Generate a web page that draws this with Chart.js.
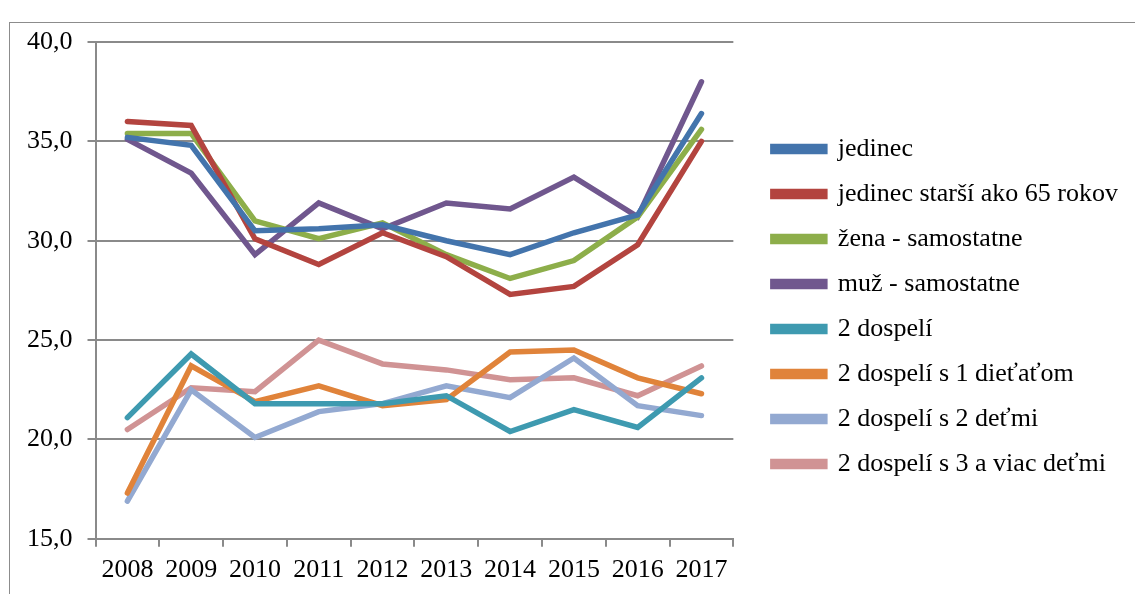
<!DOCTYPE html>
<html>
<head>
<meta charset="utf-8">
<script src="https://cdn.jsdelivr.net/npm/chart.js@4"></script>
<style>
  html, body { margin: 0; padding: 0; background: #fff; overflow: hidden; }
  #frame { position: absolute; left: 9px; top: 22px; width: 1300px; height: 800px; border: 1.5px solid #8c8c8c; }
  #wrap { position: absolute; left: 0; top: 0; width: 1135px; height: 594px; }
</style>
</head>
<body>
<div id="frame"></div>
<div id="wrap"><canvas id="lineChart"></canvas></div>
<script>
// Data
const years = ['2008', '2009', '2010', '2011', '2012', '2013', '2014', '2015', '2016', '2017'];
const yTickLabels = ['15,0', '20,0', '25,0', '30,0', '35,0', '40,0'];

const jedinec = [35.2, 34.8, 30.5, 30.6, 30.8, 30.0, 29.3, 30.4, 31.3, 36.4];
const jedinecStarsi = [36.0, 35.8, 30.1, 28.8, 30.4, 29.2, 27.3, 27.7, 29.8, 35.0];
const zena = [35.4, 35.4, 31.0, 30.1, 30.9, 29.3, 28.1, 29.0, 31.2, 35.6];
const muz = [35.1, 33.4, 29.3, 31.9, 30.6, 31.9, 31.6, 33.2, 31.2, 38.0];
const dvaDospeli = [21.1, 24.3, 21.8, 21.8, 21.8, 22.2, 20.4, 21.5, 20.6, 23.1];
const sJednym = [17.3, 23.7, 21.9, 22.7, 21.7, 22.0, 24.4, 24.5, 23.1, 22.3];
const sDvoma = [16.9, 22.5, 20.1, 21.4, 21.8, 22.7, 22.1, 24.1, 21.7, 21.2];
const sTromi = [20.5, 22.6, 22.4, 25.0, 23.8, 23.5, 23.0, 23.1, 22.2, 23.7];

const series = [
  { label: 'jedinec', data: jedinec, color: '#4374AC' },
  { label: 'jedinec starší ako 65 rokov', data: jedinecStarsi, color: '#B3443F' },
  { label: 'žena - samostatne', data: zena, color: '#8DAE4A' },
  { label: 'muž - samostatne', data: muz, color: '#70578E' },
  { label: '2 dospelí', data: dvaDospeli, color: '#3E9AB0' },
  { label: '2 dospelí s 1 dieťaťom', data: sJednym, color: '#E0833A' },
  { label: '2 dospelí s 2 deťmi', data: sDvoma, color: '#93A9D1' },
  { label: '2 dospelí s 3 a viac deťmi', data: sTromi, color: '#D09394' }
];

function renderLineChart() {
  const ctx = document.getElementById('lineChart');
  Chart.defaults.font.family = '"Liberation Serif", "Times New Roman", serif';
  Chart.defaults.color = '#000';

  const datasets = series.map(s => {
    return {
      label: s.label,
      data: s.data,
      borderColor: s.color,
      backgroundColor: s.color,
      borderWidth: 5.5,
      borderCapStyle: 'round',
      borderJoinStyle: 'miter',
      pointRadius: 0,
      tension: 0,
      fill: false
    };
  });

  new Chart(ctx, {
    type: 'line',
    data: { labels: years, datasets: datasets },
    options: {
      responsive: true,
      maintainAspectRatio: false,
      animation: false,
      layout: { padding: { left: 12, top: 42, right: 7, bottom: 0 } },
      plugins: {
        tooltip: { enabled: false },
        legend: {
          position: 'right',
          align: 'start',
          maxWidth: 420,
          title: { display: true, text: ' ', font: { size: 10, lineHeight: 1 }, padding: { top: 65, bottom: 0 } },
          labels: {
            boxWidth: 52,
            boxHeight: 5,
            padding: 19,
            font: { size: 26 },
            color: '#000'
          }
        }
      },
      scales: {
        x: {
          offset: true,
          grid: { offset: true, drawOnChartArea: false, drawTicks: true, tickLength: 8, color: '#8a8a8a', lineWidth: 2 },
          border: { color: '#8a8a8a', width: 2 },
          ticks: { font: { size: 26 }, padding: 8, maxRotation: 0, autoSkip: false }
        },
        y: {
          min: 15,
          max: 40,
          ticks: {
            stepSize: 5,
            font: { size: 26 },
            padding: 15,
            callback: (v) => yTickLabels[(v - 15) / 5]
          },
          grid: { color: '#8a8a8a', lineWidth: 2, tickLength: 8 },
          border: { color: '#8a8a8a', width: 2 }
        },
        // empty spacer between the plot and the legend
        gap: {
          axis: 'y',
          position: 'right',
          ticks: { display: false },
          grid: { display: false },
          border: { display: false },
          afterFit: (scale) => { scale.width = 20.5; }
        }
      }
    }
  });
}

renderLineChart();
</script>
</body>
</html>
